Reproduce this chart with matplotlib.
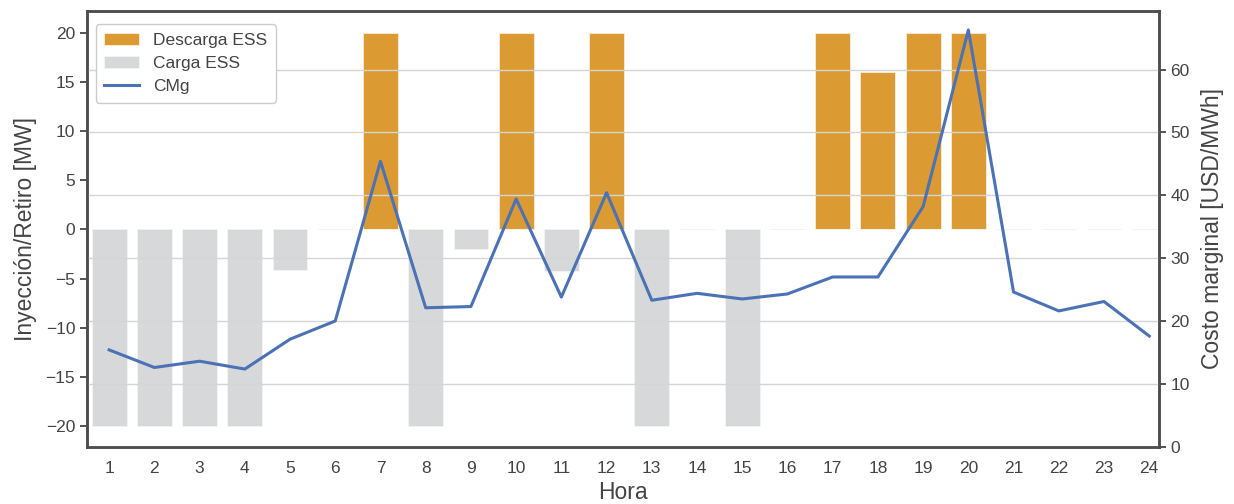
import numpy as np
import matplotlib.pyplot as plt

plt.rcParams['font.family'] = ['Liberation Sans', 'DejaVu Sans']

horas = np.arange(1, 25)
descarga = [0, 0, 0, 0, 0, 0, 20, 0, 0, 20, 0, 20, 0, 0, 0, 0, 20, 16, 20, 20, 0, 0, 0, 0]
carga = [-20, -20, -20, -20, -4.1, 0, 0, -20, -2, 0, -4.2, 0, -20, 0, -20, 0, 0, 0, 0, 0, 0, 0, 0, 0]
cmg = [15.4, 12.6, 13.6, 12.35, 17.1, 20.0, 45.4, 22.1, 22.3, 39.4, 23.8, 40.4,
       23.3, 24.4, 23.5, 24.3, 27.0, 27.0, 38.2, 66.3, 24.6, 21.6, 23.1, 17.6]

c_desc = '#dc9a32'
c_carga = '#d7d8da'
c_cmg = '#4a72b5'
c_txt = '#444444'
c_spine = '#4d4d4d'

fig = plt.figure(figsize=(12.34, 5.04), dpi=100)
ax = fig.add_axes([0.0705, 0.1137, 0.8685, 0.8643])
ax2 = ax.twinx()

x = np.arange(len(horas))
b1 = ax.bar(x, descarga, width=0.77, color=c_desc, edgecolor='#fbeedd', linewidth=0.6,
            label='Descarga ESS')
b2 = ax.bar(x, carga, width=0.77, color=c_carga, edgecolor='#f4f4f4', linewidth=0.6,
            label='Carga ESS')
l1, = ax2.plot(x, cmg, color=c_cmg, lw=2.2, label='CMg')

ax.set_xlim(-0.49, 23.21)
ax.set_ylim(-22.1, 22.2)
ax.set_yticks(np.arange(-20, 21, 5))
ax.set_xticks(x)
ax.set_xticklabels([str(h) for h in horas])
ax2.set_ylim(0, 69.3)
ax2.set_yticks(np.arange(0, 61, 10))
ax2.grid(axis='y', color='#d5d5d5', lw=1.0)

ax.set_xlabel('Hora', fontsize=16.5, color=c_txt, labelpad=4)
ax.set_ylabel('Inyección/Retiro [MW]', fontsize=16.5, color=c_txt, labelpad=6)
ax2.set_ylabel('Costo marginal [USD/MWh]', fontsize=16.5, color=c_txt, labelpad=8)

for a in (ax, ax2):
    for s in a.spines.values():
        s.set_color(c_spine)
        s.set_linewidth(1.8)
    a.tick_params(labelsize=12.5, colors=c_txt, width=1.3, length=5)
ax.tick_params(axis='x', length=0, pad=10)

# legend on the twin axes so it sits above the grid lines
leg = ax2.legend(handles=[b1, b2, l1], loc='upper left', fontsize=12.5,
                 bbox_to_anchor=(0.0, 0.99), handlelength=2.0, handletextpad=0.8,
                 frameon=True, fancybox=True, borderpad=0.5, labelspacing=0.45,
                 framealpha=1.0)
leg.get_frame().set_edgecolor('#cccccc')
for t in leg.get_texts():
    t.set_color(c_txt)

fig.savefig('out.png', dpi=100)
